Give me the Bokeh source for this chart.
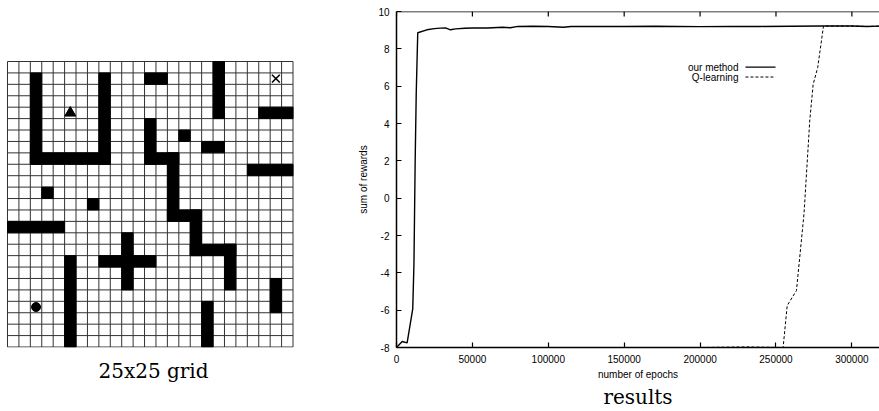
from bokeh.plotting import figure
from bokeh.models import Range1d, FixedTicker, Title, BasicTickFormatter, Span, LinearAxis
from bokeh.layouts import row
from bokeh.core.properties import value
from bokeh.embed import file_html
from bokeh.resources import INLINE

# ---------------- data ----------------
GRID_N = 25
# obstacle segments: (row_from, row_to, col_from, col_to), rows counted from top, inclusive
obstacle_blocks = [
    (1, 8, 2, 2), (1, 8, 8, 8), (8, 8, 2, 8),
    (1, 1, 12, 13), (0, 4, 18, 18), (4, 4, 22, 24),
    (5, 8, 12, 12), (8, 8, 12, 14), (8, 13, 14, 14), (13, 13, 14, 16),
    (13, 16, 16, 16), (16, 16, 16, 19), (16, 19, 19, 19),
    (6, 6, 15, 15), (7, 7, 17, 18), (9, 9, 21, 24),
    (11, 11, 3, 3), (12, 12, 7, 7), (14, 14, 0, 4),
    (15, 19, 10, 10), (17, 17, 8, 12),
    (17, 24, 5, 5), (21, 24, 17, 17), (19, 21, 23, 23),
]
start_cell = (4, 5)    # triangle (row, col)
agent_cell = (21, 2)   # circle
goal_cell = (1, 23)    # cross

epochs_our = [0, 3750, 7000, 10700, 11500, 12300, 13000, 14000, 20000, 25000, 29000,
              32300, 35600, 38900, 45000, 50000, 60000, 70000, 75000, 80000, 90000,
              100000, 110000, 115000, 130000, 150000, 170000, 200000, 220000, 240000,
              260000, 280000, 300000, 310000, 320000]
rewards_our = [-8.0, -7.68, -7.75, -5.93, -3.5, 2.0, 5.6, 8.86, 9.02, 9.08, 9.11,
               9.12, 9.02, 9.07, 9.1, 9.12, 9.12, 9.16, 9.13, 9.2, 9.21,
               9.2, 9.16, 9.2, 9.2, 9.2, 9.21, 9.19, 9.2, 9.2,
               9.21, 9.22, 9.22, 9.2, 9.22]

epochs_q = [0, 50000, 100000, 150000, 200000, 230000, 254700, 257400, 263500, 268500,
            272300, 274500, 277500, 281300, 290000, 300000, 310000, 320000]
rewards_q = [-8.0, -8.0, -8.0, -8.0, -8.0, -7.97, -8.0, -5.75, -4.95, -0.8,
             4.2, 6.1, 7.0, 9.22, 9.22, 9.22, 9.2, 9.22]

x_ticks = [0, 50000, 100000, 150000, 200000, 250000, 300000]
y_ticks = [-8, -6, -4, -2, 0, 2, 4, 6, 8, 10]
series_labels = ["our method", "Q-learning"]

# ---------------- layout constants ----------------
W = 879
H = 411
LEFT_W = 306
FRAME_TOP = 11
FRAME_BOTTOM = 347
BORDER_BOTTOM = H - FRAME_BOTTOM
FRAME_H = FRAME_BOTTOM - FRAME_TOP
CELL = 11.42
GRID_LEFT = 7
X_MIN, X_MAX, Y_MIN, Y_MAX = 0, 318200, -8, 10
PX_PER_Y = FRAME_H / (Y_MAX - Y_MIN)

# ---------------- grid panel ----------------
g = figure(width=LEFT_W, height=H, output_backend="svg", toolbar_location=None,
           x_range=Range1d(-GRID_LEFT / CELL, (LEFT_W - GRID_LEFT) / CELL),
           y_range=Range1d(-0.5 / CELL, (FRAME_H - 0.5) / CELL),
           x_axis_location=None, y_axis_location=None,
           min_border_left=0, min_border_right=0,
           min_border_top=FRAME_TOP, min_border_bottom=BORDER_BOTTOM)
g.grid.visible = False
g.outline_line_color = None
g.background_fill_color = "white"
g.border_fill_color = "white"

lines = list(range(GRID_N + 1))
g.segment(x0=lines, y0=[0] * len(lines), x1=lines, y1=[GRID_N] * len(lines),
          line_color="#333333", line_width=1)
g.segment(x0=[0] * len(lines), y0=lines, x1=[GRID_N] * len(lines), y1=lines,
          line_color="#333333", line_width=1)

lefts, rights, tops, bottoms = [], [], [], []
for r0, r1, c0, c1 in obstacle_blocks:
    lefts.append(c0)
    rights.append(c1 + 1)
    tops.append(GRID_N - r0)
    bottoms.append(GRID_N - r1 - 1)
g.quad(left=lefts, right=rights, top=tops, bottom=bottoms,
       fill_color="black", line_color="black", line_width=1)

def cx(cell):
    return cell[1] + 0.5

def cy(cell):
    return GRID_N - cell[0] - 0.5

g.scatter(x=[cx(start_cell)], y=[cy(start_cell)], marker="triangle", size=11,
          fill_color="black", line_color="black")
g.scatter(x=[cx(agent_cell)], y=[cy(agent_cell)], marker="circle", size=9,
          fill_color="black", line_color="black")
g.scatter(x=[cx(goal_cell)], y=[cy(goal_cell)], marker="x", size=11,
          line_color="black", line_width=1.6)
g.add_layout(Title(text="25x25 grid", align="center", text_font="DejaVu Serif",
                   text_font_size="20px", text_font_style="normal",
                   text_color="black", standoff=18), "below")

# ---------------- results panel ----------------
FONT = "Liberation Sans"
p = figure(width=W - LEFT_W, height=H, output_backend="svg", toolbar_location=None,
           x_range=Range1d(X_MIN, X_MAX), y_range=Range1d(Y_MIN, Y_MAX),
           min_border_left=396 - LEFT_W, min_border_right=0,
           min_border_top=FRAME_TOP, min_border_bottom=BORDER_BOTTOM,
           x_axis_label="number of epochs", y_axis_label="sum of rewards")
p.grid.visible = False
p.outline_line_color = None
p.background_fill_color = "white"
p.border_fill_color = "white"

xa = p.xaxis[0]
ya = p.yaxis[0]
xa.ticker = FixedTicker(ticks=x_ticks)
xa.formatter = BasicTickFormatter(use_scientific=False)
xa.major_label_overrides = {t: str(t) for t in x_ticks}
xa.major_label_standoff = 7
xa.axis_label_standoff = 3
ya.ticker = FixedTicker(ticks=y_ticks)
ya.major_label_overrides = {t: str(t) for t in y_ticks}
ya.major_label_standoff = 7
ya.axis_label_standoff = 6

for ax in (xa, ya):
    ax.axis_line_color = "black"
    ax.axis_line_width = 1.5
    ax.major_tick_in = 5
    ax.major_tick_out = 0
    ax.major_tick_line_color = "black"
    ax.major_tick_line_width = 1.2
    ax.minor_tick_line_color = None
    ax.major_label_text_font = FONT
    ax.major_label_text_color = "black"
    ax.major_label_text_font_size = "10px"
    ax.axis_label_text_font = FONT
    ax.axis_label_text_font_style = "normal"
    ax.axis_label_text_font_size = "10px"
    ax.axis_label_text_color = "black"

# caption "results" carried by a bare axis below the x axis
cap_axis = LinearAxis(ticker=FixedTicker(ticks=[]), axis_label="results",
                      axis_line_color=None, major_tick_line_color=None,
                      minor_tick_line_color=None, major_tick_in=0, major_tick_out=0,
                      major_label_standoff=0, axis_label_standoff=2,
                      axis_label_text_font="DejaVu Serif", axis_label_text_font_size="20px",
                      axis_label_text_font_style="normal", axis_label_text_color="black")
p.add_layout(cap_axis, "below")

# top border with mirrored ticks (gnuplot style)
p.add_layout(Span(location=Y_MAX, dimension="width", line_color="black", line_width=1.5))
tick_len = 5 / PX_PER_Y
p.segment(x0=x_ticks, y0=[Y_MAX] * len(x_ticks), x1=x_ticks,
          y1=[Y_MAX - tick_len] * len(x_ticks), line_color="black", line_width=1.2)

p.line(epochs_our, rewards_our, line_color="black", line_width=1.4)
p.line(epochs_q, rewards_q, line_color="black", line_width=1, line_dash="3 2")

# legend in gnuplot style (text left, sample right)
leg_text_x = 225300
leg_x0, leg_x1 = 229900, 249700
leg_y = [7.02, 6.49]
p.text(x=[leg_text_x] * 2, y=leg_y, text=series_labels, text_align="right",
       text_baseline="middle", text_font=value(FONT), text_font_size="10px",
       text_color="black")
p.segment(x0=[leg_x0], y0=[leg_y[0]], x1=[leg_x1], y1=[leg_y[0]],
          line_color="black", line_width=1.4)
p.segment(x0=[leg_x0], y0=[leg_y[1]], x1=[leg_x1], y1=[leg_y[1]],
          line_color="black", line_width=1, line_dash="3 2")

layout = row(g, p)
open("out.html", "w").write(file_html(layout, INLINE))
